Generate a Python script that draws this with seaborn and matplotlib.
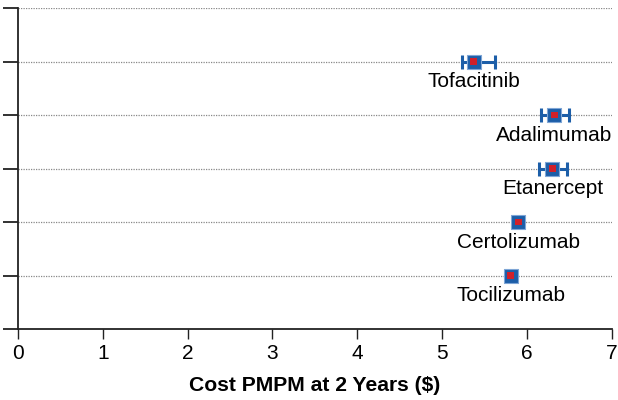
import matplotlib
matplotlib.use("Agg")
import matplotlib.pyplot as plt
import seaborn as sns
import pandas as pd
import numpy as np

drugs = ["Tofacitinib", "Adalimumab", "Etanercept", "Certolizumab", "Tocilizumab"]
cost = [5.37, 6.32, 6.30, 5.90, 5.81]
ci_low = [5.24, 6.17, 6.14, 5.90, 5.81]
ci_high = [5.62, 6.50, 6.47, 5.90, 5.81]
xticks = [0, 1, 2, 3, 4, 5, 6, 7]

sns.set_theme(style="white")
plt.rcParams['font.family'] = ['Liberation Sans', 'DejaVu Sans']

df = pd.DataFrame({"drug": drugs, "cost": cost, "lo": ci_low, "hi": ci_high})
df["ypos"] = [len(drugs) - i for i in range(len(drugs))]

fig = plt.figure(figsize=(6.18, 4.0), dpi=100)
ax = fig.add_axes([0.029, 0.1775, 0.961, 0.8025])

blue = "#1c5ea8"
ax.errorbar(df["cost"], df["ypos"],
            xerr=[df["cost"] - df["lo"], df["hi"] - df["cost"]],
            fmt="none", ecolor=blue, elinewidth=2.2, capsize=5, capthick=2.2, zorder=3)
sns.scatterplot(data=df, x="cost", y="ypos", marker="s", s=100, color=blue,
                edgecolor="#7fa6d6", linewidth=0.8, ax=ax, zorder=4, legend=False)
sns.scatterplot(data=df, x="cost", y="ypos", marker="s", s=24, color="#d0202a",
                edgecolor="none", ax=ax, zorder=5, legend=False)

for _, r in df.iterrows():
    ax.text(r["cost"], r["ypos"] - 0.2, r["drug"], ha="center", va="top", fontsize=15, color="black")

ax.set_xlim(0, 7)
ax.set_ylim(0, 6)
ax.set_xticks(xticks)
ax.set_xticklabels([str(t) for t in xticks], fontsize=15, color="black")
ax.set_yticks(range(0, 7))
ax.set_yticklabels([])
for yv in range(1, 7):
    ax.axhline(yv, color="#888888", linestyle=(0, (1, 1)), linewidth=0.9, zorder=1)

ax.set_xlabel("Cost PMPM at 2 Years ($)", fontsize=15.2, fontweight="bold", labelpad=9, color="black")
ax.set_ylabel("")

for s in ["top", "right"]:
    ax.spines[s].set_visible(False)
for s in ["left", "bottom"]:
    ax.spines[s].set_color("#222222")
    ax.spines[s].set_linewidth(1.3)
ax.tick_params(axis="y", which="major", direction="out", length=11, width=1.3, color="#222222", left=True)
ax.tick_params(axis="x", which="major", direction="out", length=7, width=1.0, color="#222222", bottom=True, pad=4)

fig.savefig("out.png", dpi=100)
